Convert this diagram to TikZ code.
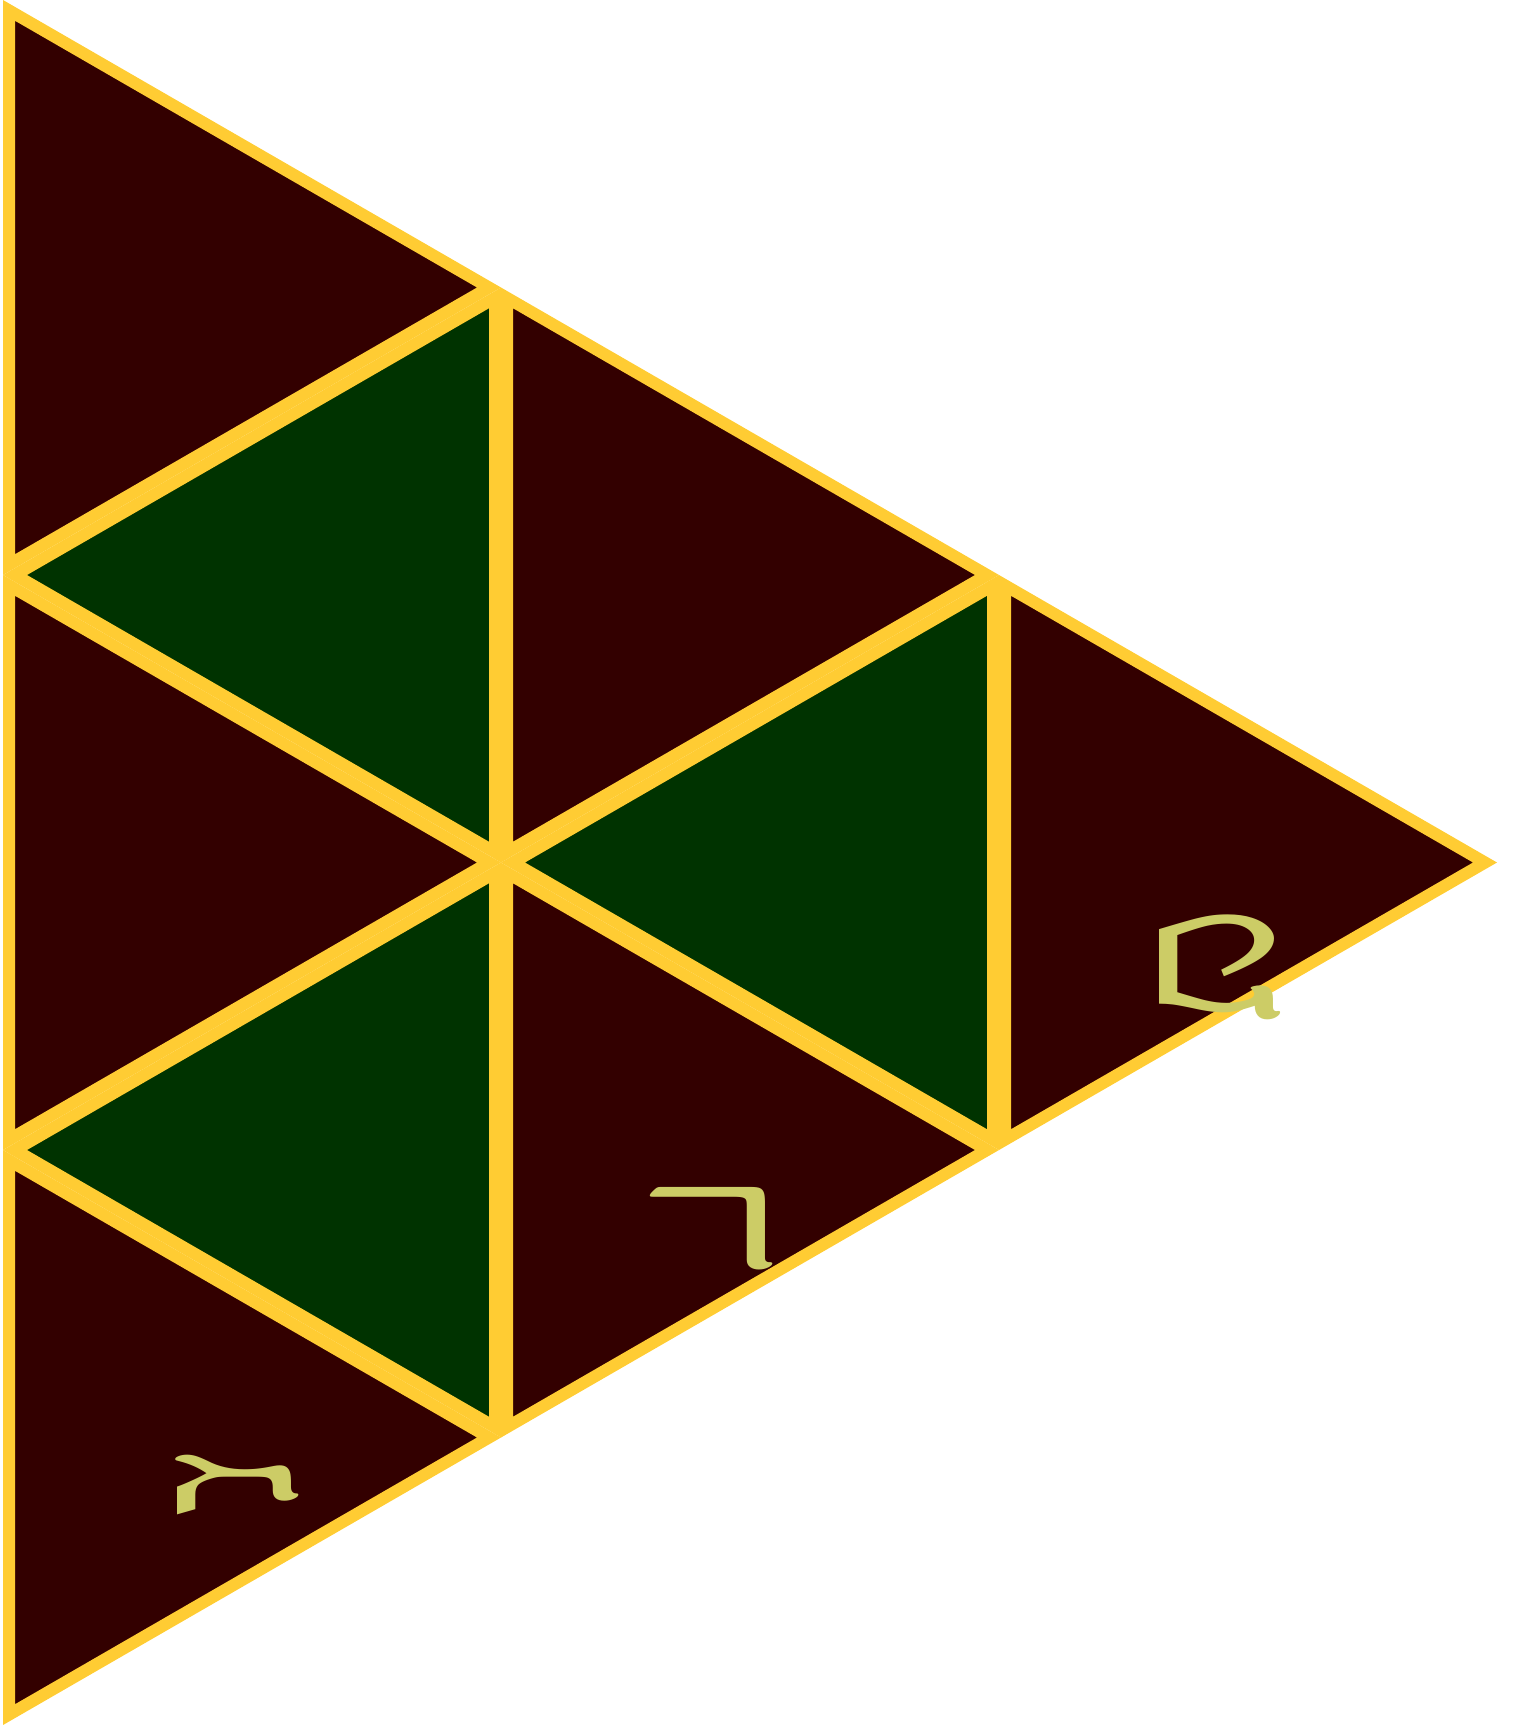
\documentclass[tikz,border=0pt]{standalone}
\usepackage{fontspec}
\newfontfamily\hebserif[Script=Hebrew]{Liberation Serif}
\TeXXeTstate=1
\definecolor{cellred}{HTML}{330000}
\definecolor{cellgreen}{HTML}{003300}
\definecolor{gridgold}{HTML}{FFCC33}
\definecolor{labelolive}{HTML}{CCCC66}
\begin{document}
\begin{tikzpicture}[x=0.5pt,y=-0.5pt,
  cell/.style={draw=gridgold,line width=6pt,line join=miter},
  redcell/.style={cell,fill=cellred},
  greencell/.style={cell,fill=cellgreen},
  lab/.style={text=labelolive,inner sep=0pt,cm={0,1,1,0,(0,0)},font=\fontsize{103}{110}\selectfont\hebserif}]
\useasboundingbox (0,0) rectangle (1514,1725);
% red (right-pointing) cells
\draw[redcell] (9,10.39) -- (489,287.5) -- (9,564.61) -- cycle;
\draw[redcell] (9,585.39) -- (489,862.5) -- (9,1139.61) -- cycle;
\draw[redcell] (9,1160.39) -- (489,1437.5) -- (9,1714.61) -- cycle;
\draw[redcell] (507,297.89) -- (987,575) -- (507,852.11) -- cycle;
\draw[redcell] (507,872.89) -- (987,1150) -- (507,1427.11) -- cycle;
\draw[redcell] (1005,585.39) -- (1485,862.5) -- (1005,1139.61) -- cycle;
% green (left-pointing) cells
\draw[greencell] (495,297.89) -- (15,575) -- (495,852.11) -- cycle;
\draw[greencell] (495,872.89) -- (15,1150) -- (495,1427.11) -- cycle;
\draw[greencell] (993,585.39) -- (513,862.5) -- (993,1139.61) -- cycle;
% labels
\node[lab] (l1) at (237,1482) {\beginR ג\endR};
\node[lab] (l2) at (712,1222) {\beginR ר\endR};
\node[lab] (l3) at (1220,966) {\beginR ט\endR};
\end{tikzpicture}
\end{document}
